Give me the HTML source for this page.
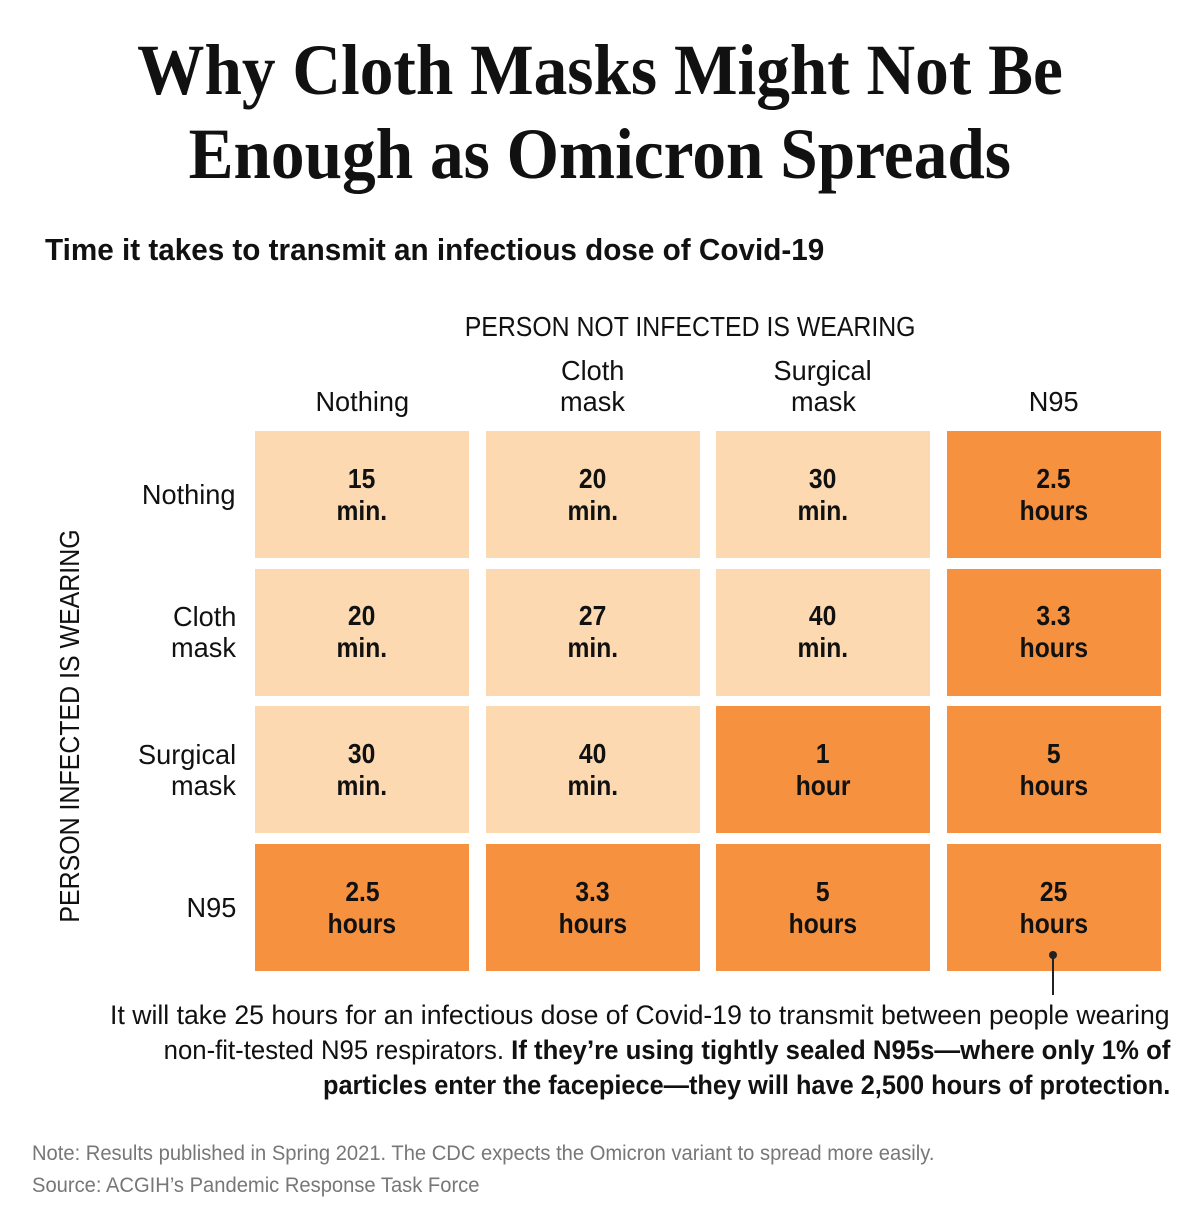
<!DOCTYPE html>
<html><head><meta charset="utf-8">
<style>
body{margin:0;width:1200px;height:1208px;background:#fff;position:relative;overflow:hidden;font-family:"Liberation Sans",sans-serif;color:#111}
.abs{position:absolute}
.sx{display:inline-block;transform:scaleX(0.8);transform-origin:center}
.title{left:0;width:1200px;text-align:center;font-family:"Liberation Serif",serif;font-weight:bold;font-size:72px;line-height:84px;top:28px}
.title .sx{transform:scaleX(0.935)}
.cell{position:absolute;display:flex;align-items:center;justify-content:center;text-align:center;font-weight:bold;font-size:28px;line-height:32px}
.cell .sx{transform:scaleX(0.88)}
.lbl{position:absolute;font-size:28px;line-height:31px}
.lbl .sx{transform:scaleX(0.97)}
</style></head><body>
<div class="abs title"><span class="sx">Why Cloth Masks Might Not Be</span><br><span class="sx">Enough as Omicron Spreads</span></div>
<div class="abs" style="left:45px;top:232px;font-size:31px;font-weight:bold;white-space:nowrap"><span class="sx" style="transform-origin:left;transform:scaleX(0.957)">Time it takes to transmit an infectious dose of Covid-19</span></div>
<div class="abs" style="left:380px;width:620px;top:311px;text-align:center;font-size:28px;white-space:nowrap"><span class="sx" style="transform:scaleX(0.887)">PERSON NOT INFECTED IS WEARING</span></div>
<div class="abs" style="left:70px;top:726px;width:0;height:0"><div style="position:absolute;transform:translate(-50%,-50%) rotate(-90deg);white-space:nowrap;font-size:28px"><span class="sx" style="transform:scaleX(0.89)">PERSON INFECTED IS WEARING</span></div></div>
<div id="grid"></div>
<div class="abs" style="left:1049px;top:951px;width:8px;height:8px;border-radius:50%;background:#222"></div>
<div class="abs" style="left:1052px;top:955px;width:2px;height:40px;background:#222"></div>
<div class="abs" style="right:30px;top:998px;text-align:right;font-size:27px;line-height:35px;white-space:nowrap"><span class="sx" style="transform-origin:right;transform:scaleX(0.986)">It will take 25 hours for an infectious dose of Covid-19 to transmit between people wearing</span><br><span class="sx" style="transform-origin:right;transform:scaleX(0.953)">non-fit-tested N95 respirators. <b>If they’re using tightly sealed N95s—where only 1% of</b></span><br><span class="sx" style="transform-origin:right;transform:scaleX(0.938)"><b>particles enter the facepiece—they will have 2,500 hours of protection.</b></span></div>
<div class="abs" style="left:32px;top:1138px;font-size:21px;line-height:32px;color:#777;white-space:nowrap"><span class="sx" style="transform-origin:left;transform:scaleX(0.96)">Note: Results published in Spring 2021. The CDC expects the Omicron variant to spread more easily.</span><br><span class="sx" style="transform-origin:left;transform:scaleX(0.96)">Source: ACGIH’s Pandemic Response Task Force</span></div>
<script>
const colLabels=[["Nothing"],["Cloth","mask"],["Surgical","mask"],["N95"]];
const rowLabels=[["Nothing"],["Cloth","mask"],["Surgical","mask"],["N95"]];
const values=[["15","min."],["20","min."],["30","min."],["2.5","hours"],
["20","min."],["27","min."],["40","min."],["3.3","hours"],
["30","min."],["40","min."],["1","hour"],["5","hours"],
["2.5","hours"],["3.3","hours"],["5","hours"],["25","hours"]];
const g=document.getElementById('grid');
const cx=i=>255+i*230.5, cy=j=>431+j*137.7, cw=214, ch=127;
const minutes=v=>v[1].startsWith('min')?+v[0]:+v[0]*60;
colLabels.forEach((l,i)=>{const d=document.createElement('div');d.className='lbl';


d.style.left=cx(i)+'px';d.style.width=cw+'px';d.style.textAlign='center';d.style.top=(417-l.length*31)+'px';
d.innerHTML=l.map(t=>'<span class="sx">'+t+'</span>').join('<br>');g.appendChild(d);});
rowLabels.forEach((l,j)=>{const d=document.createElement('div');d.className='lbl';


d.style.right=(1200-236)+'px';d.style.textAlign='right';d.style.top=(cy(j)+ch/2-l.length*15.5)+'px';
d.innerHTML=l.map(t=>'<span class="sx" style="transform-origin:right">'+t+'</span>').join('<br>');g.appendChild(d);});
values.forEach((v,k)=>{const i=k%4,j=Math.floor(k/4);const d=document.createElement('div');d.className='cell';


d.style.left=cx(i)+'px';d.style.top=cy(j)+'px';d.style.width=cw+'px';d.style.height=ch+'px';
d.style.background=minutes(v)>=60?'#f5913f':'#fcd9b0';
d.innerHTML='<div><span class="sx">'+v[0]+'</span><br><span class="sx">'+v[1]+'</span></div>';g.appendChild(d);});
</script>
</body></html>
